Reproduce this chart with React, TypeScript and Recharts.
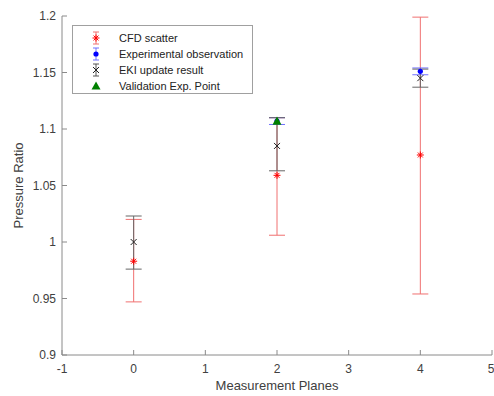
import React from "react";
import {
  ScatterChart,
  Scatter,
  XAxis,
  YAxis,
  ErrorBar,
} from "recharts";

// measurement planes
const planes = [0, 2, 4];

// CFD scatter
const cfdMean = [0.983, 1.059, 1.077];
const cfdLow = [0.947, 1.006, 0.954];
const cfdHigh = [1.02, 1.11, 1.199];

// experimental observation (plane 2 and 4)
const expPlanes = [2, 4];
const expMean = [1.107, 1.151];
const expLow = [1.104, 1.148];
const expHigh = [1.11, 1.154];

// EKI update result
const ekiMean = [1.0, 1.085, 1.145];
const ekiLow = [0.976, 1.063, 1.137];
const ekiHigh = [1.023, 1.11, 1.153];

// validation point
const valPlanes = [2];
const valMean = [1.107];

const xTicks = [-1, 0, 1, 2, 3, 4, 5];
const yTicks = [0.9, 0.95, 1, 1.05, 1.1, 1.15, 1.2];

const build = (xs: number[], ys: number[], lo?: number[], hi?: number[]) =>
  xs.map((x, i) => ({
    x,
    y: ys[i],
    err: lo && hi ? [ys[i] - lo[i], hi[i] - ys[i]] : [0, 0],
  }));

const cfdData = build(planes, cfdMean, cfdLow, cfdHigh);
const expData = build(expPlanes, expMean, expLow, expHigh);
const ekiData = build(planes, ekiMean, ekiLow, ekiHigh);
const valData = build(valPlanes, valMean);

const FONT = "'Liberation Sans', Arial, sans-serif";
const TEXT = "#404040";
const AXIS = "#8a8a8a";

const Asterisk = ({ cx, cy }: any) => {
  const r = 3.5;
  return (
    <g stroke="#ff0000" strokeWidth={1}>
      <line x1={cx - r} y1={cy} x2={cx + r} y2={cy} />
      <line x1={cx} y1={cy - r} x2={cx} y2={cy + r} />
      <line x1={cx - r * 0.7} y1={cy - r * 0.7} x2={cx + r * 0.7} y2={cy + r * 0.7} />
      <line x1={cx - r * 0.7} y1={cy + r * 0.7} x2={cx + r * 0.7} y2={cy - r * 0.7} />
    </g>
  );
};

const Dot = ({ cx, cy }: any) => <circle cx={cx} cy={cy} r={2.6} fill="#0000ff" />;

const Cross = ({ cx, cy }: any) => {
  const r = 3;
  return (
    <g stroke="#222" strokeWidth={1}>
      <line x1={cx - r} y1={cy - r} x2={cx + r} y2={cy + r} />
      <line x1={cx - r} y1={cy + r} x2={cx + r} y2={cy - r} />
    </g>
  );
};

const Triangle = ({ cx, cy }: any) => {
  const s = 4.5;
  return (
    <polygon
      points={`${cx},${cy - s} ${cx - s},${cy + s * 0.8} ${cx + s},${cy + s * 0.8}`}
      fill="#008000"
    />
  );
};

const legendItems = [
  { name: "CFD scatter", color: "#ff0000", bar: "#f07070", marker: "ast" },
  { name: "Experimental observation", color: "#0000ff", bar: "#7070ff", marker: "dot" },
  { name: "EKI update result", color: "#222", bar: "#555", marker: "x" },
  { name: "Validation Exp. Point", color: "#008000", bar: null, marker: "tri" },
];

function LegendBox() {
  return (
    <div
      style={{
        position: "absolute",
        left: 72,
        top: 25,
        width: 181,
        height: 69,
        border: "1px solid #a0a0a0",
        background: "#fff",
        fontFamily: FONT,
        fontSize: 11,
        color: "#222",
        boxSizing: "border-box",
        paddingTop: 4,
      }}
    >
      {legendItems.map((it) => (
        <div key={it.name} style={{ display: "flex", alignItems: "center", height: 16 }}>
          <svg width={46} height={16} style={{ flex: "none" }}>
            {it.bar && (
              <g stroke={it.bar} strokeWidth={1}>
                <line x1={23} y1={2} x2={23} y2={14} />
                <line x1={20} y1={2} x2={26} y2={2} />
                <line x1={20} y1={14} x2={26} y2={14} />
              </g>
            )}
            {it.marker === "ast" && <Asterisk cx={23} cy={8} />}
            {it.marker === "dot" && <Dot cx={23} cy={8} />}
            {it.marker === "x" && <Cross cx={23} cy={8} />}
            {it.marker === "tri" && <Triangle cx={23} cy={8} />}
          </svg>
          <span style={{ marginLeft: 0 }}>{it.name}</span>
        </div>
      ))}
    </div>
  );
}

export default function App() {
  return (
    <div style={{ position: "fixed", left: 0, top: 0, width: 494, height: 396, background: "#fff" }}>
      <ScatterChart width={494} height={396} margin={{ top: 16, right: 2, bottom: 0, left: 0 }}>
        <XAxis
          xAxisId="b"
          type="number"
          dataKey="x"
          domain={[-1, 5]}
          ticks={xTicks}
          height={41}
          tickSize={-5}
          tickMargin={14}
          stroke={AXIS}
          tick={{ fill: TEXT, fontSize: 12, fontFamily: FONT }}
          label={{
            value: "Measurement Planes",
            position: "insideBottom",
            offset: 6,
            fill: TEXT,
            fontSize: 13,
            fontFamily: FONT,
          }}
        />
        <XAxis
          xAxisId="t"
          orientation="top"
          type="number"
          dataKey="x"
          domain={[-1, 5]}
          ticks={xTicks}
          height={0}
          tickSize={-5}
          tick={false}
          stroke={AXIS}
        />
        <YAxis
          yAxisId="l"
          type="number"
          dataKey="y"
          domain={[0.9, 1.2]}
          ticks={yTicks}
          width={62}
          tickSize={-5}
          tickMargin={11}
          stroke={AXIS}
          tick={{ fill: TEXT, fontSize: 12, fontFamily: FONT }}
          label={{
            value: "Pressure Ratio",
            angle: -90,
            position: "insideLeft",
            offset: 18,
            fill: TEXT,
            fontSize: 13,
            fontFamily: FONT,
            style: { textAnchor: "middle" },
          }}
        />
        <YAxis
          yAxisId="r"
          orientation="right"
          type="number"
          dataKey="y"
          domain={[0.9, 1.2]}
          ticks={yTicks}
          width={0}
          tickSize={-5}
          tick={false}
          stroke={AXIS}
        />
        <Scatter
          name="CFD scatter"
          data={cfdData}
          xAxisId="b"
          yAxisId="l"
          shape={Asterisk}
          isAnimationActive={false}
        >
          <ErrorBar dataKey="err" direction="y" width={8} stroke="#f07070" strokeWidth={1} isAnimationActive={false} />
        </Scatter>
        <Scatter
          name="Experimental observation"
          data={expData}
          xAxisId="b"
          yAxisId="l"
          shape={Dot}
          isAnimationActive={false}
        >
          <ErrorBar dataKey="err" direction="y" width={8} stroke="#7070ff" strokeWidth={1} isAnimationActive={false} />
        </Scatter>
        <Scatter
          name="EKI update result"
          data={ekiData}
          xAxisId="b"
          yAxisId="l"
          shape={Cross}
          isAnimationActive={false}
        >
          <ErrorBar dataKey="err" direction="y" width={8} stroke="#666" strokeWidth={1} isAnimationActive={false} />
        </Scatter>
        <Scatter
          name="Validation Exp. Point"
          data={valData}
          xAxisId="b"
          yAxisId="l"
          shape={Triangle}
          isAnimationActive={false}
        />
      </ScatterChart>
      <LegendBox />
    </div>
  );
}
